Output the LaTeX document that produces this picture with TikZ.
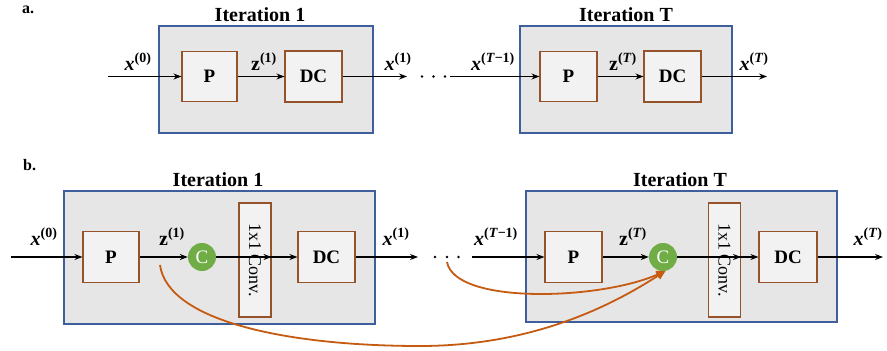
\documentclass[tikz,border=0pt]{standalone}
\usepackage{amsmath}
\usepackage{fontspec}
\setmainfont{Liberation Serif}
\usetikzlibrary{arrows.meta}
\definecolor{blueC}{HTML}{3F5E9C}
\definecolor{greyC}{HTML}{E7E6E6}
\definecolor{lightC}{HTML}{F2F2F2}
\definecolor{brownC}{HTML}{96522A}
\definecolor{orangeC}{HTML}{C55A11}
\definecolor{greenC}{HTML}{70AD47}
\newcommand\vx[1]{\textbf{\textit{x}}$^{\textbf{(#1)}}$}
\newcommand\vz[1]{\textbf{z}$^{\textbf{(#1)}}$}
\begin{document}
\begin{tikzpicture}[x=1pt,y=-1pt,
  outerbox/.style={draw=blueC,fill=greyC,line width=1.1pt,inner sep=0pt},
  blk/.style={draw=brownC,fill=lightC,line width=1.1pt,inner sep=0pt,font=\fontsize{19}{22}\selectfont\bfseries},
  convbox/.style={blk,rotate=-90,minimum width=114pt,minimum height=32pt,font=\fontsize{18}{22}\selectfont},
  arr/.style={-{Stealth[length=8pt,width=6pt]},line width=1.1pt},
  curv/.style={draw=orangeC,line width=1.8pt,-{Triangle[length=9pt,width=8pt]}},
  cnode/.style={circle,fill=greenC,text=white,minimum size=28pt,inner sep=0pt,font=\fontsize{19}{22}\selectfont},
  ttl/.style={anchor=base,font=\fontsize{20}{24}\selectfont\bfseries},
  lbl/.style={anchor=base,font=\fontsize{20}{24}\selectfont,inner sep=0pt},
  pan/.style={anchor=base west,font=\fontsize{16}{20}\selectfont\bfseries,inner sep=0pt}]
\useasboundingbox (0,0) rectangle (887,351);

% ---------- panel a ----------
\node[pan] (pa) at (22,13) {a.};
\node[outerbox,minimum width=214pt,minimum height=107pt] (boxA1) at (266,79.5) {};
\node[ttl] (tA1) at (260,21) {Iteration 1};
\node[blk,minimum width=55pt,minimum height=50pt] (pA1) at (209.5,76.5) {P};
\node[blk,minimum width=57pt,minimum height=51pt] (dcA1) at (313.5,76.5) {DC};
\coordinate (inA1) at (108,76.5);
\coordinate (outA1) at (407,76.5);
\draw[arr] (inA1) -- (pA1);
\draw[arr] (pA1) -- (dcA1);
\draw[arr] (dcA1) -- (outA1);
\node[lbl] (lxA0) at (138,70) {\vx{0}};
\node[lbl] (lzA1) at (264,70) {\vz{1}};
\node[lbl] (lxA1) at (398,70) {\vx{1}};
\foreach \d in {422,433.5,445} \fill (\d,76.5) circle (1.4pt);

\node[outerbox,minimum width=212pt,minimum height=107pt] (boxAT) at (626,79.5) {};
\node[ttl] (tAT) at (626,21) {Iteration T};
\node[blk,minimum width=57pt,minimum height=50pt] (pAT) at (568.5,76.5) {P};
\node[blk,minimum width=57pt,minimum height=51pt] (dcAT) at (672.5,76.5) {DC};
\coordinate (inAT) at (450,76.5);
\coordinate (outAT) at (767,76.5);
\draw[arr] (inAT) -- (pAT);
\draw[arr] (pAT) -- (dcAT);
\draw[arr] (dcAT) -- (outAT);
\node[lbl] (lxAT1) at (493,70) {\vx{\textit{T}−1}};
\node[lbl] (lzAT) at (623,70) {\vz{\textit{T}}};
\node[lbl] (lxAT) at (754,70) {\vx{\textit{T}}};

% ---------- panel b ----------
\node[pan] (pb) at (23,170) {b.};
\node[outerbox,minimum width=311pt,minimum height=133pt] (boxB1) at (219.5,257.5) {};
\node[ttl] (tB1) at (218,186) {Iteration 1};
\node[blk,minimum width=56pt,minimum height=51pt] (pB1) at (111,257) {P};
\node[cnode] (cB1) at (202,257) {C};
\node[convbox] (convB1) at (255,260) {1x1 Conv.};
\node[blk,minimum width=57pt,minimum height=51pt] (dcB1) at (326.5,257) {DC};
\coordinate (inB1) at (11,257);
\coordinate (outB1) at (418,257);
\draw[arr] (inB1) -- (pB1);
\draw[arr] (pB1) -- (cB1);
\draw[arr] (cB1) -- (cB1 -| convB1.north);
\draw[arr] (dcB1 -| convB1.south) -- (dcB1);
\draw[arr] (dcB1) -- (outB1);
\node[lbl] (lxB0) at (44,245) {\vx{0}};
\node[lbl] (lzB1) at (172,245) {\vz{1}};
\node[lbl] (lxB1) at (396,245) {\vx{1}};
\foreach \d in {435,447,458.5} \fill (\d,257) circle (1.4pt);

\node[outerbox,minimum width=311pt,minimum height=131pt] (boxBT) at (681.5,256.5) {};
\node[ttl] (tBT) at (680,186) {Iteration T};
\node[blk,minimum width=57pt,minimum height=51pt] (pBT) at (573.5,257) {P};
\node[cnode] (cBT) at (663,257) {C};
\node[convbox] (convBT) at (724.5,260) {1x1 Conv.};
\node[blk,minimum width=58pt,minimum height=51pt] (dcBT) at (788,257) {DC};
\coordinate (inBT) at (472,257);
\coordinate (outBT) at (883,257);
\draw[arr] (inBT) -- (pBT);
\draw[arr] (pBT) -- (cBT);
\draw[arr] (cBT) -- (cBT -| convBT.north);
\draw[arr] (dcBT -| convBT.south) -- (dcBT);
\draw[arr] (dcBT) -- (outBT);
\node[lbl] (lxBT1) at (496,245) {\vx{\textit{T}−1}};
\node[lbl] (lzBT) at (633,245) {\vz{\textit{T}}};
\node[lbl] (lxBT) at (868,245) {\vx{\textit{T}}};

% skip connections
\coordinate (s1) at (160,265);
\coordinate (s2) at (447,262);
\draw[curv] (s1) .. controls (168,322) and (290,346) .. (420,346)
                 .. controls (540,346) and (620,300) .. (cBT.-80);
\draw[curv] (s2) .. controls (455,305) and (600,300) .. (cBT.-80);
\end{tikzpicture}
\end{document}
